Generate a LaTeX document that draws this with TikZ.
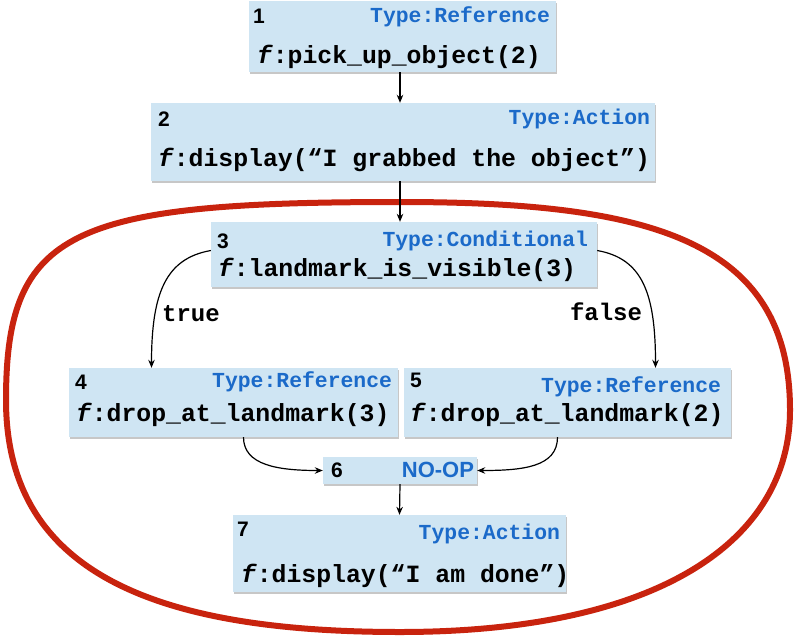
\documentclass[tikz,border=0pt]{standalone}
\usepackage{fontspec}
\setmainfont{Liberation Sans}
\setsansfont{Liberation Sans}
\setmonofont{Liberation Mono}
\usetikzlibrary{arrows.meta,shadows}

\definecolor{boxblue}{RGB}{207,229,243}
\definecolor{typeblue}{RGB}{27,106,201}
\definecolor{loopred}{RGB}{200,35,14}

\newcommand\fcall{\textit{f}:}

\tikzset{
  stepbox/.style={fill=boxblue, draw=none, inner sep=0pt,
    drop shadow={shadow xshift=0.6pt, shadow yshift=-1.6pt, fill=black, opacity=0.22}},
  num/.style={font=\sffamily\bfseries\fontsize{21}{21}\selectfont, anchor=west, inner sep=0pt},
  kind/.style={font=\ttfamily\bfseries\fontsize{21.4}{21.4}\selectfont, text=typeblue, anchor=east, inner sep=0pt},
  call/.style={font=\ttfamily\bfseries\fontsize{24.8}{24.8}\selectfont, anchor=west, inner sep=0pt},
  branch/.style={font=\ttfamily\bfseries\fontsize{24}{24}\selectfont, inner sep=0pt},
  arr/.style={-{Stealth[length=8pt,width=6.5pt]}, line width=1.2pt},
}

\begin{document}
\begin{tikzpicture}[x=1pt, y=-1pt]
\useasboundingbox (0,0) rectangle (797,637);

% enclosing loop around the conditional part
\draw[loopred, line width=6pt]
  (400,202) .. controls (650,202) and (790,240) .. (790,410)
            .. controls (790,540) and (660,632) .. (400,632)
            .. controls (150,632) and (6,570) .. (6,400)
            .. controls (6,230) and (70,202) .. cycle;

% step 1
\node[stepbox, minimum width=307pt, minimum height=71pt] (n1) at (402.5,36.5) {};
\node[num]  (n1num)  at ([shift={(4,15)}]n1.north west) {1};
\node[kind] (n1kind) at ([shift={(-6,16)}]n1.north east) {Type:Reference};
\node[call] (n1call) at ([shift={(8,56)}]n1.north west) {\fcall pick\_up\_object(2)};

% step 2
\node[stepbox, minimum width=504pt, minimum height=78pt] (n2) at (403,142) {};
\node[num]  (n2num)  at ([shift={(7,16)}]n2.north west) {2};
\node[kind] (n2kind) at ([shift={(-5,16)}]n2.north east) {Type:Action};
\node[call] (n2call) at ([shift={(7,57)}]n2.north west) {\fcall display(“I grabbed the object”)};

% step 3
\node[stepbox, minimum width=386pt, minimum height=65pt] (n3) at (404,254.5) {};
\node[num]  (n3num)  at ([shift={(6,19)}]n3.north west) {3};
\node[kind] (n3kind) at ([shift={(-9,19)}]n3.north east) {Type:Conditional};
\node[call] (n3call) at ([shift={(7,48)}]n3.north west) {\fcall landmark\_is\_visible(3)};

% step 4
\node[stepbox, minimum width=329pt, minimum height=69pt] (n4) at (233.5,402.5) {};
\node[num]  (n4num)  at ([shift={(6,14)}]n4.north west) {4};
\node[kind] (n4kind) at ([shift={(-6,14)}]n4.north east) {Type:Reference};
\node[call] (n4call) at ([shift={(7,47)}]n4.north west) {\fcall drop\_at\_landmark(3)};

% step 5
\node[stepbox, minimum width=327pt, minimum height=69pt] (n5) at (567.5,402.5) {};
\node[num]  (n5num)  at ([shift={(6,13)}]n5.north west) {5};
\node[kind] (n5kind) at ([shift={(-10,19)}]n5.north east) {Type:Reference};
\node[call] (n5call) at ([shift={(6,47)}]n5.north west) {\fcall drop\_at\_landmark(2)};

% step 6
\node[stepbox, minimum width=154pt, minimum height=27pt] (n6) at (400,470.5) {};
\node[num]  (n6num)  at ([shift={(8,13.5)}]n6.north west) {6};
\node[font=\sffamily\bfseries\fontsize{22}{22}\selectfont, text=typeblue, anchor=east, inner sep=0pt]
  (n6kind) at ([shift={(-3,13.5)}]n6.north east) {NO-OP};

% step 7
\node[stepbox, minimum width=333pt, minimum height=77pt] (n7) at (399.5,553.5) {};
\node[num]  (n7num)  at ([shift={(4,14)}]n7.north west) {7};
\node[kind] (n7kind) at ([shift={(-6,19)}]n7.north east) {Type:Action};
\node[call] (n7call) at ([shift={(8,61)}]n7.north west) {\fcall display(“I am done”)};

% connectors
\draw[arr] ([shift={(-2.5,0)}]n1.south) -- ([shift={(-3,0)}]n2.north);
\draw[arr] ([shift={(-3,0)}]n2.south) -- ([shift={(-4,0)}]n3.north);
\draw[arr] ([shift={(0,-4)}]n3.west) .. controls +(-45,8) and +(0,-75) .. ([shift={(-82,0)}]n4.north);
\draw[arr] ([shift={(0,-4)}]n3.east) .. controls +(45,8) and +(0,-75) .. ([shift={(88,0)}]n5.north);
\draw[arr] ([shift={(10,0)}]n4.south) .. controls +(0,28) and +(-45,0) .. (n6.west);
\draw[arr] ([shift={(-10,0)}]n5.south) .. controls +(0,30) and +(45,0) .. (n6.east);
\draw[arr] (n6.south) -- (n7.north);

% branch labels
\node[branch] (ltrue)  at (191,314) {true};
\node[branch] (lfalse) at (606,312) {false};
\end{tikzpicture}
\end{document}
